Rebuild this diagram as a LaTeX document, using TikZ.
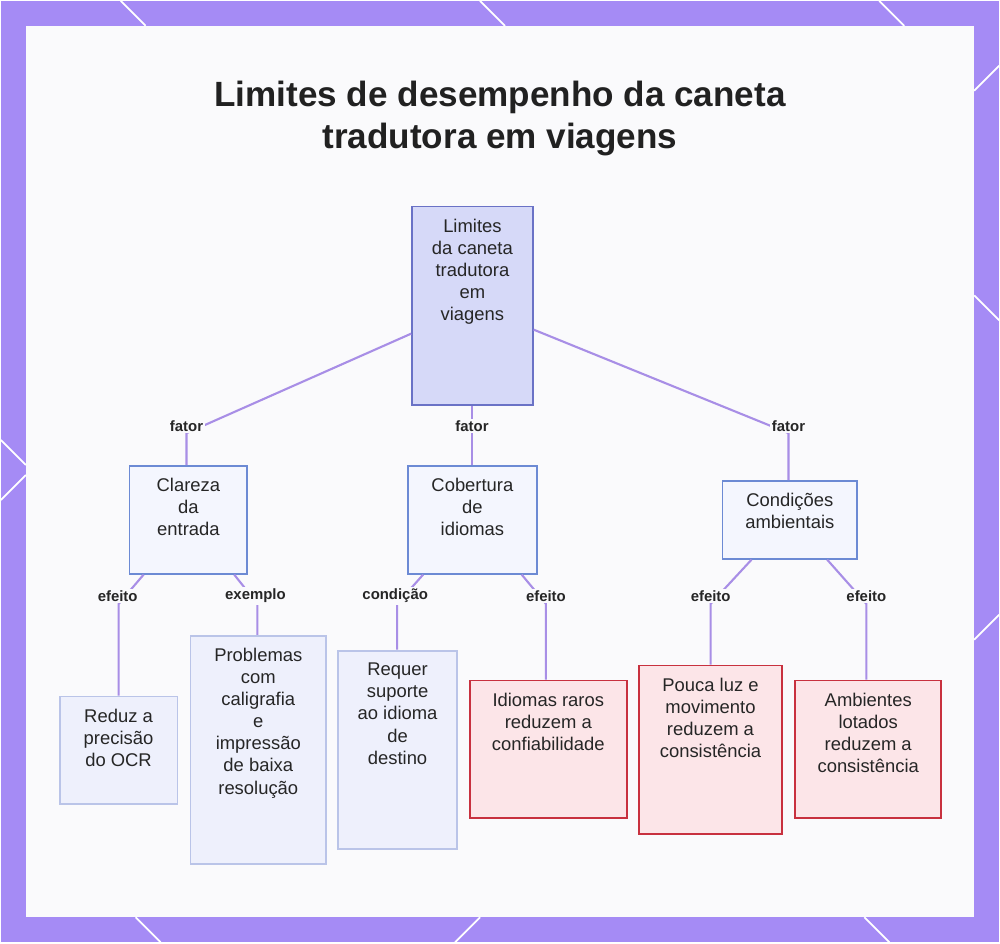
\documentclass[tikz,border=0pt]{standalone}
\usepackage{fontspec}
\setmainfont{Liberation Sans}
\definecolor{frame}{HTML}{A58BF5}
\definecolor{panel}{HTML}{FAFAFC}
\definecolor{edgec}{HTML}{A88EE6}
\definecolor{rootfill}{HTML}{D6D9F8}
\definecolor{rootline}{HTML}{6A72C6}
\definecolor{midfill}{HTML}{F4F6FE}
\definecolor{midline}{HTML}{6C8AD4}
\definecolor{leaffill}{HTML}{EEF0FC}
\definecolor{leafline}{HTML}{BAC4E8}
\definecolor{redfill}{HTML}{FCE5E8}
\definecolor{redline}{HTML}{C8313F}
\begin{document}
\begin{tikzpicture}[x=0.02cm, y=-0.02cm,
    box/.style = {draw, line width = 1pt, inner sep = 0pt, anchor = north west},
    root/.style = {box, fill = rootfill, draw = rootline},
    mid/.style = {box, fill = midfill, draw = midline},
    leaf/.style = {box, fill = leaffill, draw = leafline},
    warn/.style = {box, fill = redfill, draw = redline},
    txt/.style = {anchor = north, align = center, font = \fontsize{10.5}{12.6}\selectfont, text = black!85, inner sep = 0pt},
    edge/.style = {draw = edgec, line width = 1.2pt},
    tag/.style = {fill = panel, inner sep = 1pt, font = \bfseries\fontsize{8.5}{10}\selectfont, text = black!85}]
  % background
  \fill[frame] (0,0) rectangle (1000,943);
  \fill[panel] (25,25) rectangle (975,918);
  \foreach \a in {120, 480, 880} {
    \draw[white, line width = 1pt] (\a,0) -- (\a+25,25);
  }
  \draw[white, line width = 1pt] (975,90) -- (1000,65);
  \draw[white, line width = 1pt] (975,295) -- (1000,320);
  \draw[white, line width = 1pt] (0,440) -- (25,465);
  \draw[white, line width = 1pt] (0,500) -- (25,475);
  \draw[white, line width = 1pt] (975,640) -- (1000,615);
  \draw[white, line width = 1pt] (135,918) -- (160,943);
  \draw[white, line width = 1pt] (480,918) -- (455,943);
  \draw[white, line width = 1pt] (865,918) -- (890,943);
  % title
  \node (title) at (500,118) [align = center, font = \bfseries\fontsize{20}{24}\selectfont, text = black!87]
    {Limites de desempenho da caneta\\tradutora em viagens};
  % boxes
  \node [root, minimum width = 2.42cm, minimum height = 3.98cm] (lim) at (411,205){};
  \node [mid, minimum width = 2.36cm, minimum height = 2.16cm] (clar) at (128,465){};
  \node [mid, minimum width = 2.58cm, minimum height = 2.16cm] (cob) at (407,465){};
  \node [mid, minimum width = 2.7cm, minimum height = 1.56cm] (cond) at (722,480){};
  \node [leaf, minimum width = 2.36cm, minimum height = 2.16cm] (ocr) at (58,696){};
  \node [leaf, minimum width = 2.72cm, minimum height = 4.58cm] (prob) at (189,635){};
  \node [leaf, minimum width = 2.38cm, minimum height = 3.98cm] (req) at (337,650){};
  \node [warn, minimum width = 3.14cm, minimum height = 2.76cm] (raro) at (469,680){};
  \node [warn, minimum width = 2.88cm, minimum height = 3.38cm] (luz) at (638,665){};
  \node [warn, minimum width = 2.92cm, minimum height = 2.76cm] (lot) at (795,680){};
  % texts
  \node [txt] at ([yshift = -0.26cm]lim.north) {Limites\\da caneta\\tradutora\\em\\viagens};
  \node [txt] at ([yshift = -0.26cm]clar.north) {Clareza\\da\\entrada};
  \node [txt] at ([yshift = -0.26cm]cob.north) {Cobertura\\de\\idiomas};
  \node [txt] at ([yshift = -0.26cm]cond.north) {Condições\\ambientais};
  \node [txt] at ([yshift = -0.26cm]ocr.north) {Reduz a\\precisão\\do OCR};
  \node [txt] at ([yshift = -0.26cm]prob.north) {Problemas\\com\\caligrafia\\e\\impressão\\de baixa\\resolução};
  \node [txt] at ([yshift = -0.26cm]req.north) {Requer\\suporte\\ao idioma\\de\\destino};
  \node [txt] at ([yshift = -0.26cm]raro.north) {Idiomas raros\\reduzem a\\confiabilidade};
  \node [txt] at ([yshift = -0.26cm]luz.north) {Pouca luz e\\movimento\\reduzem a\\consistência};
  \node [txt] at ([yshift = -0.26cm]lot.north) {Ambientes\\lotados\\reduzem a\\consistência};
  % bends
  \coordinate (b1) at (186,433);
  \coordinate (b3) at (789,433);
  \coordinate (c1) at (118,604);
  \coordinate (c2) at (257,604);
  \coordinate (c3) at (397,604);
  \coordinate (c4) at (546,604);
  \coordinate (c5) at (711,604);
  \coordinate (c6) at (867,604);
  % connectors
  \draw [edge] ([yshift = -0.56cm]lim.west) -- (b1) -- (b1 |- clar.north);
  \draw [edge] (lim.south) -- (cob.north -| lim.south);
  \draw [edge] ([yshift = -0.48cm]lim.east) -- (b3) -- (b3 |- cond.north);
  \draw [edge] ([xshift = 0.3cm]clar.south west) -- (c1) -- (c1 |- ocr.north);
  \draw [edge] ([xshift = -0.28cm]clar.south east) -- (c2) -- (c2 |- prob.north);
  \draw [edge] ([xshift = 0.32cm]cob.south west) -- (c3) -- (c3 |- req.north);
  \draw [edge] ([xshift = -0.32cm]cob.south east) -- (c4) -- (c4 |- raro.north);
  \draw [edge] ([xshift = 0.6cm]cond.south west) -- (c5) -- (c5 |- luz.north);
  \draw [edge] ([xshift = -0.62cm]cond.south east) -- (c6) -- (c6 |- lot.north);
  % tags
  \node [tag] at (186,426) {fator};
  \node [tag] at (472,426) {fator};
  \node [tag] at (789,426) {fator};
  \node [tag] at (117,596) {efeito};
  \node [tag] at (255,596) {exemplo};
  \node [tag] at (395,596) {condição};
  \node [tag] at (546,596) {efeito};
  \node [tag] at (711,596) {efeito};
  \node [tag] at (867,596) {efeito};
\end{tikzpicture}
\end{document}
